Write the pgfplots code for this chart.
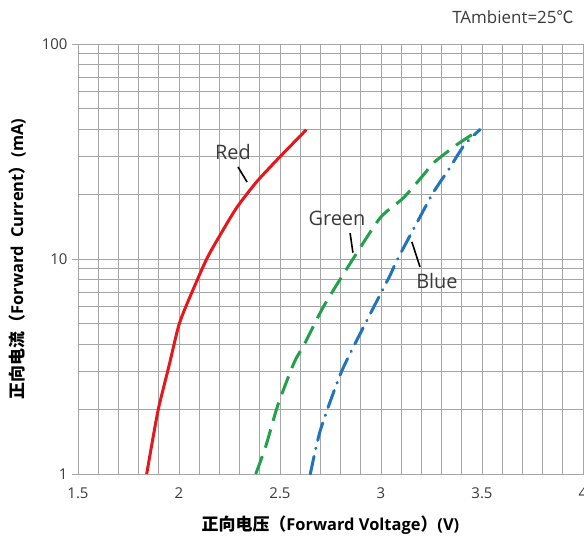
\documentclass[border=0pt]{standalone}
\usepackage{fontspec}
\setmainfont{Open Sans}
\newfontfamily\cjk{Noto Sans CJK SC}
\usepackage{pgfplots}
\pgfplotsset{compat=1.18}
\definecolor{ledred}{HTML}{E5171B}
\definecolor{ledgreen}{HTML}{22A04C}
\definecolor{ledblue}{HTML}{2174BC}
\definecolor{gridgray}{HTML}{A6A6A6}
\definecolor{txt}{HTML}{3A3A3A}

\begin{document}
\begin{tikzpicture}
\begin{axis}[
    scale only axis,
    width=505bp, height=430bp,
    xmin=1.5, xmax=4,
    ymode=log, ymin=1, ymax=100,
    xtick={1.5,2,2.5,3,3.5,4},
    xticklabels={1.5,2,2.5,3,3.5,4},
    minor x tick num=4,
    ytick={1,10,100},
    yticklabels={1,10,100},
    grid=both,
    major grid style={gridgray, line width=0.7bp},
    minor grid style={gridgray, line width=0.7bp},
    axis line style={gridgray, line width=0.7bp},
    xtick style={draw=none},
    minor x tick style={draw=none},
    minor y tick style={draw=none},
    ytick style={gridgray, line width=0.7bp},
    major tick length=6bp,
    tick align=outside,
    tick label style={font=\fontsize{15}{18}\selectfont, text=txt},
    yticklabel style={xshift=-1bp},
    xticklabel style={yshift=-4bp},
]
\addplot[ledred, line width=3bp, smooth, tension=0.4] coordinates {
    (1.84,1) (1.87,1.45) (1.90,2.05) (1.95,3.17) (2.0,4.95) (2.054,6.66)
    (2.137,10) (2.203,12.9) (2.285,17.3) (2.385,22.9) (2.5,29.9) (2.615,38.6) (2.63,40)
};
\addplot[ledgreen, line width=3bp, smooth, tension=0.4, dash pattern=on 19bp off 9bp] coordinates {
    (2.38,1) (2.43,1.35) (2.49,2.1) (2.57,3.3) (2.62,4.0) (2.715,6)
    (2.84,9.3) (2.995,15.5) (3.11,19.2) (3.21,24.6) (3.26,28) (3.375,34) (3.49,40)
};
\addplot[ledblue, line width=3bp, smooth, tension=0.4, line cap=round,
    dash pattern=on 18bp off 8bp on 0.5bp off 8bp] coordinates {
    (2.65,1) (2.70,1.6) (2.805,3.0) (2.94,5.4) (3.045,8.4) (3.08,9.9)
    (3.22,17.5) (3.26,20.5) (3.34,26.5) (3.38,30.5) (3.42,34.6) (3.49,40)
};
\node[font=\fontsize{20}{24}\selectfont, text=txt] at (axis cs:2.267,31.5) {Red};
\node[font=\fontsize{20}{24}\selectfont, text=txt] at (axis cs:2.782,15.5) {Green};
\node[font=\fontsize{20}{24}\selectfont, text=txt] at (axis cs:3.277,7.9) {Blue};
\draw[black, line width=1.6bp] (axis cs:2.292,26.8) -- (axis cs:2.337,22.8);
\draw[black, line width=1.6bp] (axis cs:2.847,13.2) -- (axis cs:2.861,10.7);
\draw[black, line width=1.6bp] (axis cs:3.153,12.0) -- (axis cs:3.193,9.18);
\coordinate (sw) at (rel axis cs:0,0);
\coordinate (ne) at (rel axis cs:1,1);
\coordinate (ymid) at (rel axis cs:0,0.5);
\coordinate (xmid) at (rel axis cs:0.5,0);
\end{axis}
\node[anchor=east, font=\fontsize{17}{20}\selectfont, text=txt]
    at ([shift={(-6bp,27bp)}]ne) {TAmbient=25{\cjk ℃}};
\node[rotate=90, font=\bfseries\fontsize{16.5}{18}\selectfont, text=black]
    at ([xshift=-61bp]ymid) {{\cjk\fontsize{17}{18}\selectfont 正向电流（}Forward\ \ Current{\cjk\fontsize{17}{18}\selectfont ）}(mA)};
\node[font=\bfseries\fontsize{16.5}{18}\selectfont, text=black]
    at ([yshift=-51bp]xmid) {{\cjk\fontsize{17}{18}\selectfont 正向电压（}Forward Voltage{\cjk\fontsize{17}{18}\selectfont ）}(V)};
\pgfresetboundingbox
\path ([shift={(-78bp,-66bp)}]sw) rectangle ([shift={(1bp,44bp)}]ne);
\end{tikzpicture}
\end{document}
